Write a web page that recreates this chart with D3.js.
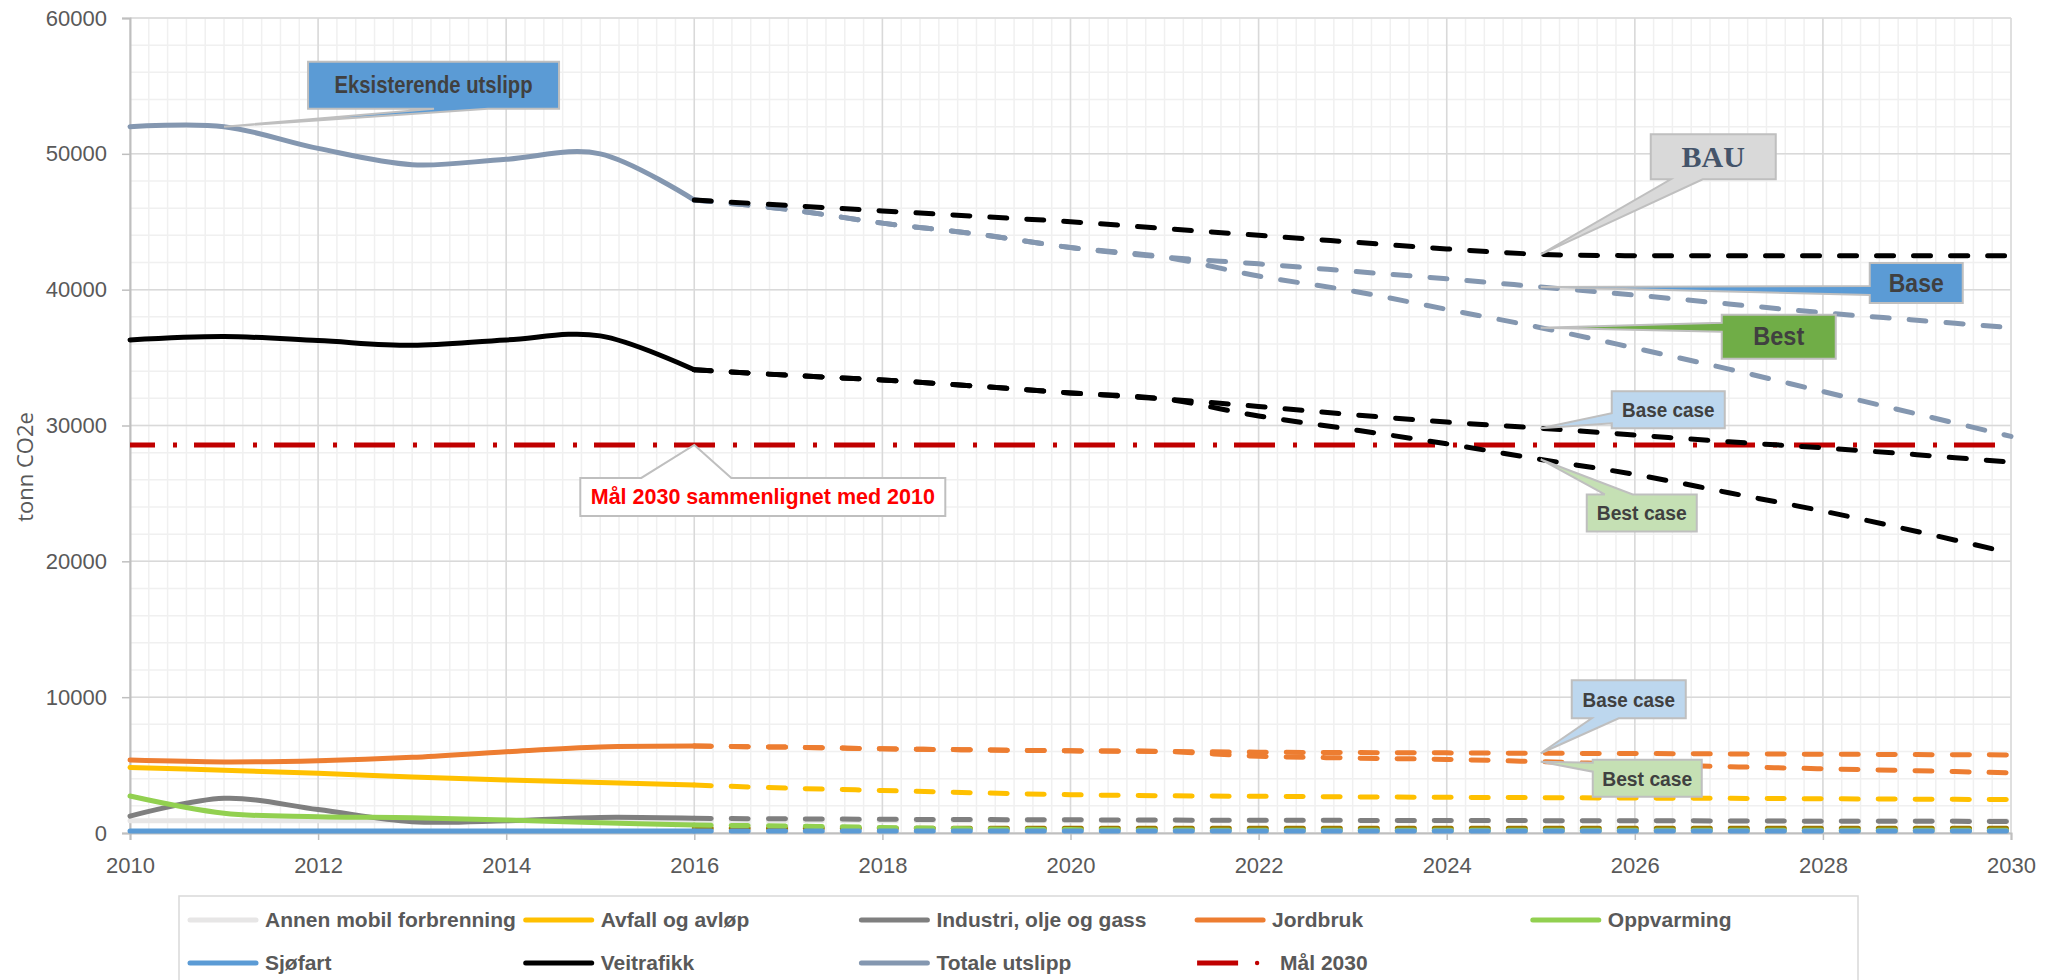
<!DOCTYPE html>
<html>
<head>
<meta charset="utf-8">
<script src="https://cdnjs.cloudflare.com/ajax/libs/d3/7.8.5/d3.min.js"></script>
<style>
body { margin: 0; background: #ffffff; }
text { font-family: "Liberation Sans", Arial, sans-serif; }
</style>
</head>
<body>
<div id="chart"></div>
<script>
// ---- data (tonn CO2e) ----
var hist_years = [2010, 2011, 2012, 2013, 2014, 2015, 2016];
var proj_years = [2016, 2017, 2018, 2019, 2020, 2021, 2022, 2023, 2024, 2025, 2026, 2027, 2028, 2029, 2030];

var annen_hist      = [900, 900, 900, 900, 900, 900, 900];
var avfall_hist     = [4830, 4620, 4400, 4130, 3900, 3720, 3530];
var industri_hist   = [1240, 2550, 1730, 830, 900, 1150, 1080];
var jordbruk_hist   = [5370, 5230, 5320, 5570, 5980, 6330, 6400];
var oppvarming_hist = [2720, 1450, 1200, 1120, 960, 760, 590];
var sjofart_hist    = [150, 150, 150, 150, 150, 150, 150];
var veitrafikk_hist = [36300, 36550, 36250, 35900, 36300, 36600, 34100];
var totale_hist     = [52000, 52000, 50400, 49200, 49600, 50000, 46600];

var annen_proj      = [900, 900, 900, 900, 900, 900, 900, 900, 900, 900, 900, 900, 900, 900, 900];
var avfall_proj     = [3530, 3300, 3130, 2960, 2820, 2740, 2700, 2660, 2630, 2600, 2570, 2550, 2520, 2490, 2460];
var industri_proj   = [1080, 1040, 1010, 990, 970, 950, 940, 930, 920, 910, 900, 890, 870, 860, 850];
var jordbruk_base   = [6400, 6320, 6200, 6120, 6050, 6000, 5950, 5920, 5900, 5870, 5850, 5820, 5800, 5770, 5750];
var jordbruk_best   = [6400, 6320, 6200, 6120, 6050, 6000, 5650, 5520, 5420, 5250, 5050, 4880, 4730, 4580, 4430];
var oppvarming_proj = [590, 510, 410, 300, 250, 220, 200, 200, 200, 200, 200, 200, 200, 200, 200];
var annet_proj      = [350, 350, 350, 350, 350, 350, 350, 350, 350, 350, 350, 350, 350, 350, 350];
var sjofart_proj    = [150, 150, 150, 150, 150, 150, 150, 150, 150, 150, 150, 150, 150, 150, 150];
var veitrafikk_base = [34100, 33700, 33350, 32900, 32400, 31950, 31400, 30800, 30250, 29800, 29300, 28800, 28350, 27850, 27300];
var veitrafikk_best = [34100, 33700, 33350, 32900, 32400, 31950, 30700, 29700, 28650, 27500, 26400, 25050, 23700, 22200, 20600];
var totale_bau      = [46600, 46200, 45800, 45400, 45000, 44500, 44000, 43500, 43000, 42600, 42500, 42500, 42500, 42500, 42500];
var totale_base     = [46600, 45900, 44900, 44100, 43100, 42400, 41900, 41350, 40800, 40200, 39600, 38950, 38300, 37750, 37200];
var totale_best     = [46600, 45900, 44900, 44100, 43100, 42400, 41000, 39900, 38550, 37200, 35700, 34150, 32500, 30850, 29200];

var maal_2030 = 28570;
var maal_years = [2010, 2030];

var y_ticks = [0, 10000, 20000, 30000, 40000, 50000, 60000];
var x_ticks = [2010, 2012, 2014, 2016, 2018, 2020, 2022, 2024, 2026, 2028, 2030];

var legend_names = ["Annen mobil forbrenning", "Avfall og avløp", "Industri, olje og gass", "Jordbruk", "Oppvarming",
                    "Sjøfart", "Veitrafikk", "Totale utslipp", "Mål 2030"];

// ---- colours ----
var col = {
    annen: "#e7e6e6", avfall: "#ffc000", industri: "#7f7f7f", jordbruk: "#ed7d31", oppvarming: "#92d050",
    sjofart: "#5b9bd5", veitrafikk: "#000000", totale: "#8497b0", maal: "#c00000", annet: "#9c7800"
};
var legend_colors = [col.annen, col.avfall, col.industri, col.jordbruk, col.oppvarming,
                     col.sjofart, col.veitrafikk, col.totale, col.maal];

// ---- layout ----
var W = 2055, H = 980;
var plot = {left: 130, right: 2011, top: 18, bottom: 833};

var svg = d3.select("#chart")
    .append("svg")
    .attr("width", W)
    .attr("height", H);

var x = d3.scaleLinear().domain([2010, 2030]).range([plot.left, plot.right]);
var y = d3.scaleLinear().domain([0, 60000]).range([plot.bottom, plot.top]);

// gridlines: minor then major
var grid = svg.append("g");
grid.selectAll(".vminor")
    .data(d3.range(0, 101).map(function(i) { return 2010 + i * 0.2; }))
    .enter().append("line")
    .attr("x1", function(d) { return x(d); }).attr("x2", function(d) { return x(d); })
    .attr("y1", plot.top).attr("y2", plot.bottom)
    .attr("stroke", "#f0f0f0").attr("stroke-width", 1.5);
grid.selectAll(".hminor")
    .data(d3.range(0, 60001, 2000))
    .enter().append("line")
    .attr("x1", plot.left).attr("x2", plot.right)
    .attr("y1", function(d) { return y(d); }).attr("y2", function(d) { return y(d); })
    .attr("stroke", "#f0f0f0").attr("stroke-width", 1.5);
grid.selectAll(".vmajor")
    .data(x_ticks)
    .enter().append("line")
    .attr("x1", function(d) { return x(d); }).attr("x2", function(d) { return x(d); })
    .attr("y1", plot.top).attr("y2", plot.bottom)
    .attr("stroke", "#d9d9d9").attr("stroke-width", 1.5);
grid.selectAll(".hmajor")
    .data(y_ticks)
    .enter().append("line")
    .attr("x1", plot.left).attr("x2", plot.right)
    .attr("y1", function(d) { return y(d); }).attr("y2", function(d) { return y(d); })
    .attr("stroke", "#d9d9d9").attr("stroke-width", 1.5);

// axes
var yAxis = svg.append("g")
    .attr("transform", "translate(" + plot.left + ",0)")
    .call(d3.axisLeft(y).tickValues(y_ticks).tickFormat(d3.format("d")).tickSize(8).tickPadding(15));
var xAxis = svg.append("g")
    .attr("transform", "translate(0," + plot.bottom + ")")
    .call(d3.axisBottom(x).tickValues(x_ticks).tickFormat(d3.format("d")).tickSize(7).tickPadding(17));
[xAxis, yAxis].forEach(function(a) {
    a.select(".domain").attr("stroke", "#bfbfbf").attr("stroke-width", 2);
    a.selectAll(".tick line").attr("stroke", "#bfbfbf").attr("stroke-width", 1.5);
    a.selectAll(".tick text").attr("fill", "#595959").style("font-size", "22px")
        .style("font-family", "'Liberation Sans', Arial, sans-serif");
});

svg.append("text")
    .attr("transform", "translate(33,467) rotate(-90)")
    .style("text-anchor", "middle")
    .style("font-family", "'Open Sans', sans-serif")
    .style("font-size", "22px")
    .attr("fill", "#595959")
    .text("tonn CO2e");

// lines
var line = d3.line()
    .x(function(d) { return x(d[0]); })
    .y(function(d) { return y(d[1]); })
    .curve(d3.curveCardinal.tension(0));

function pairs(years, vals) { return years.map(function(yr, i) { return [yr, vals[i]]; }); }

var series = [
    {years: maal_years, vals: [maal_2030, maal_2030], color: col.maal, kind: "maal"},
    {years: hist_years, vals: annen_hist, color: col.annen, kind: "solid"},
    {years: proj_years, vals: annen_proj, color: col.annen, kind: "dash"},
    {years: hist_years, vals: avfall_hist, color: col.avfall, kind: "solid"},
    {years: proj_years, vals: avfall_proj, color: col.avfall, kind: "dash"},
    {years: hist_years, vals: industri_hist, color: col.industri, kind: "solid"},
    {years: proj_years, vals: industri_proj, color: col.industri, kind: "dash"},
    {years: hist_years, vals: jordbruk_hist, color: col.jordbruk, kind: "solid"},
    {years: proj_years, vals: jordbruk_base, color: col.jordbruk, kind: "dash"},
    {years: proj_years, vals: jordbruk_best, color: col.jordbruk, kind: "dash"},
    {years: proj_years, vals: annet_proj, color: col.annet, kind: "dash"},
    {years: hist_years, vals: oppvarming_hist, color: col.oppvarming, kind: "solid"},
    {years: proj_years, vals: oppvarming_proj, color: col.oppvarming, kind: "dash"},
    {years: hist_years, vals: sjofart_hist, color: col.sjofart, kind: "solid"},
    {years: proj_years, vals: sjofart_proj, color: col.sjofart, kind: "dash"},
    {years: hist_years, vals: totale_hist, color: col.totale, kind: "solid"},
    {years: proj_years, vals: totale_base, color: col.totale, kind: "dash"},
    {years: proj_years, vals: totale_best, color: col.totale, kind: "dash"},
    {years: hist_years, vals: veitrafikk_hist, color: col.veitrafikk, kind: "solid"},
    {years: proj_years, vals: totale_bau, color: col.veitrafikk, kind: "dash"},
    {years: proj_years, vals: veitrafikk_base, color: col.veitrafikk, kind: "dash"},
    {years: proj_years, vals: veitrafikk_best, color: col.veitrafikk, kind: "dash"}
];

svg.append("g").selectAll("path")
    .data(series)
    .enter().append("path")
    .attr("d", function(s) { return line(pairs(s.years, s.vals)); })
    .attr("fill", "none")
    .attr("stroke", function(s) { return s.color; })
    .attr("stroke-width", 5)
    .attr("stroke-linecap", function(s) { return s.kind == "maal" ? "butt" : "round"; })
    .attr("stroke-dasharray", function(s) {
        if (s.kind == "dash") return "17,20";
        if (s.kind == "maal") return "41,18,4,17";
        return null;
    })
    .attr("stroke-dashoffset", function(s) { return s.kind == "maal" ? 16 : 0; });

// callouts: tip sits on a data point, box placed by pixel offset from tip
// sx squeezes the bold text horizontally (Calibri is narrower than Arial)
var callouts = [
    {text: "Eksisterende utslipp", year: 2011, val: totale_hist[1], dx: 84, dy: -65, w: 251, h: 47,
     fill: "#5b9bd5", color: "#404040", size: 23, sx: 0.88, side: "bottom", b1: 126, b2: 180},
    {text: "BAU", year: 2025, val: totale_bau[9], dx: 110, dy: -120, w: 125, h: 45,
     fill: "#d9d9d9", color: "#44546a", size: 30, sx: 1, side: "bottom", b1: 20, b2: 52, serif: true},
    {text: "Base", year: 2025, val: totale_base[9], dx: 329, dy: -24, w: 93, h: 40,
     fill: "#5b9bd5", color: "#404040", size: 25, sx: 0.92, side: "left", b1: 23, b2: 32},
    {text: "Best", year: 2025, val: totale_best[9], dx: 181, dy: -13, w: 114, h: 44,
     fill: "#70ad47", color: "#404040", size: 25, sx: 0.94, side: "left", b1: 8, b2: 17},
    {text: "Base case", year: 2025, val: veitrafikk_base[9], dx: 71, dy: -37, w: 113, h: 37,
     fill: "#bdd7ee", color: "#404040", size: 21, sx: 0.9, side: "left", b1: 22, b2: 32},
    {text: "Best case", year: 2025, val: veitrafikk_best[9], dx: 46, dy: 35, w: 110, h: 37,
     fill: "#c5e0b4", color: "#404040", size: 21, sx: 0.92, side: "top", b1: 18, b2: 46},
    {text: "Base case", year: 2025, val: jordbruk_base[9], dx: 31, dy: -73, w: 114, h: 38,
     fill: "#bdd7ee", color: "#404040", size: 21, sx: 0.9, side: "bottom", b1: 20, b2: 47},
    {text: "Best case", year: 2025, val: jordbruk_best[9], dx: 52, dy: -2, w: 109, h: 37,
     fill: "#c5e0b4", color: "#404040", size: 21, sx: 0.92, side: "left", b1: 3, b2: 12},
    {text: "Mål 2030 sammenlignet med 2010", year: 2016, val: maal_2030, dx: -114, dy: 33, w: 365, h: 38,
     fill: "#ffffff", color: "#ff0000", size: 21.5, sx: 1, side: "top", b1: 61, b2: 151}
];

function calloutPath(c, tx, ty) {
    var x0 = tx + c.dx, y0 = ty + c.dy, x1 = x0 + c.w, y1 = y0 + c.h;
    var p = d3.path();
    if (c.side == "bottom") {
        p.moveTo(x0, y0); p.lineTo(x1, y0); p.lineTo(x1, y1);
        p.lineTo(x0 + c.b2, y1); p.lineTo(tx, ty); p.lineTo(x0 + c.b1, y1); p.lineTo(x0, y1);
    } else if (c.side == "left") {
        p.moveTo(x0, y0); p.lineTo(x1, y0); p.lineTo(x1, y1); p.lineTo(x0, y1);
        p.lineTo(x0, y0 + c.b2); p.lineTo(tx, ty); p.lineTo(x0, y0 + c.b1);
    } else {
        p.moveTo(x0, y0); p.lineTo(x0 + c.b1, y0); p.lineTo(tx, ty); p.lineTo(x0 + c.b2, y0);
        p.lineTo(x1, y0); p.lineTo(x1, y1); p.lineTo(x0, y1);
    }
    p.closePath();
    return p.toString();
}

var cg = svg.append("g").selectAll("g")
    .data(callouts)
    .enter().append("g");
cg.append("path")
    .attr("d", function(c) { return calloutPath(c, x(c.year), y(c.val)); })
    .attr("fill", function(c) { return c.fill; })
    .attr("stroke", "#bfbfbf")
    .attr("stroke-width", 2);
cg.append("text")
    .attr("transform", function(c) {
        var cx = x(c.year) + c.dx + c.w / 2, cy = y(c.val) + c.dy + c.h / 2;
        return "translate(" + cx + "," + cy + ") scale(" + c.sx + ",1)";
    })
    .attr("dy", "0.35em")
    .style("text-anchor", "middle")
    .style("font-weight", "bold")
    .style("font-size", function(c) { return c.size + "px"; })
    .style("font-family", function(c) { return c.serif ? "'Liberation Serif', serif" : "'Liberation Sans', Arial, sans-serif"; })
    .attr("fill", function(c) { return c.color; })
    .text(function(c) { return c.text; });

// legend
var legend = svg.append("g");
legend.append("rect")
    .attr("x", 179).attr("y", 896).attr("width", 1679).attr("height", 100)
    .attr("fill", "#ffffff").attr("stroke", "#d9d9d9").attr("stroke-width", 1.5);

var items = legend.selectAll(".item")
    .data(legend_names)
    .enter().append("g")
    .attr("transform", function(d, i) {
        return "translate(" + (188 + (i % 5) * 335.7) + "," + (920 + Math.floor(i / 5) * 43) + ")";
    });
items.each(function(d, i) {
    var g = d3.select(this);
    if (d == "Mål 2030") {
        g.append("line").attr("x1", 2).attr("x2", 43).attr("y1", 0).attr("y2", 0)
            .attr("stroke", legend_colors[i]).attr("stroke-width", 5);
        g.append("circle").attr("cx", 62).attr("cy", 0).attr("r", 2.2).attr("fill", legend_colors[i]);
    } else {
        g.append("line").attr("x1", 2).attr("x2", 68).attr("y1", 0).attr("y2", 0)
            .attr("stroke", legend_colors[i]).attr("stroke-width", 5).attr("stroke-linecap", "round");
    }
});
items.append("text")
    .attr("x", function(d) { return d == "Mål 2030" ? 85 : 77; })
    .attr("dy", "0.35em")
    .style("font-weight", "bold")
    .style("font-size", "21px")
    .attr("fill", "#595959")
    .text(function(d) { return d; });
</script>
</body>
</html>
